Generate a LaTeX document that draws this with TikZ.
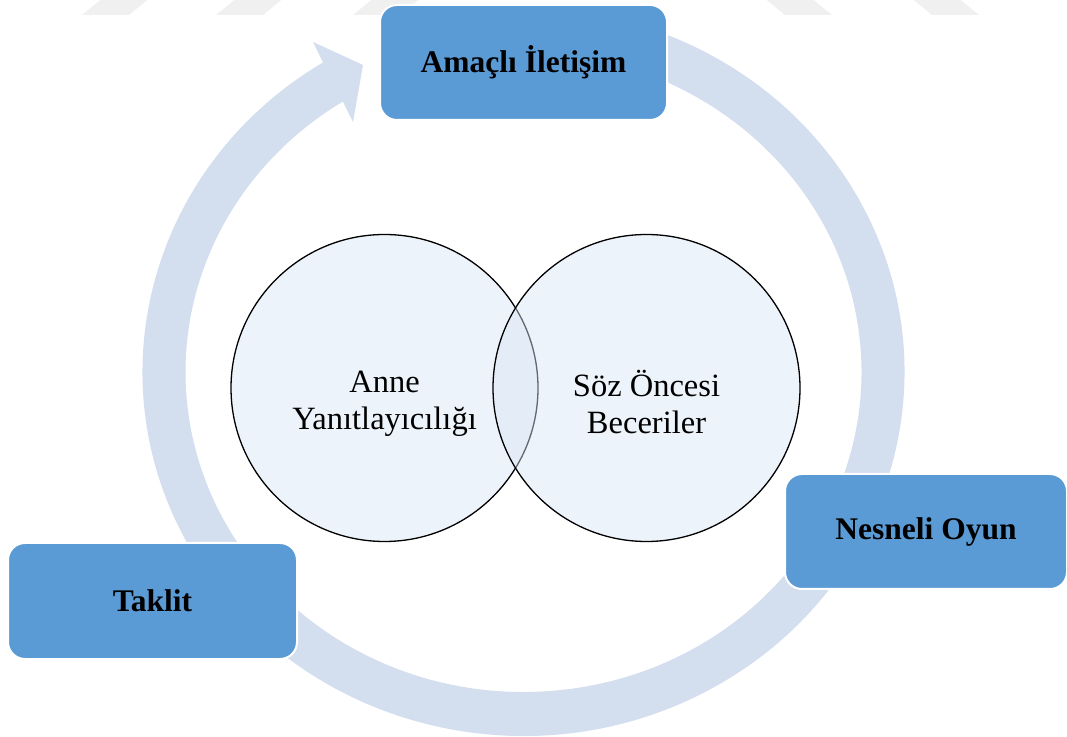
\documentclass[tikz,border=0pt]{standalone}
\usepackage{fontspec}
\setmainfont{Liberation Serif}
\usetikzlibrary{calc}
\definecolor{ringc}{HTML}{D3DEEF}
\definecolor{boxc}{HTML}{5B9BD5}
\definecolor{circc}{HTML}{D9E5F4}
\definecolor{wmark}{HTML}{F0F0F0}
\begin{document}
\begin{tikzpicture}[x=1pt,y=1pt,
  stage/.style={draw=white, line width=2pt, fill=boxc, rounded corners=17pt, inner sep=0pt,
    font=\fontsize{31.5}{37}\selectfont\bfseries},
  venn/.style={circle, draw=black, line width=1.3pt, fill=circc, fill opacity=0.45,
    text opacity=1, minimum size=307pt, inner sep=0pt},
  lbl/.style={align=center, inner sep=0pt, font=\fontsize{32.5}{37}\selectfont}]
\path[use as bounding box, clip] (0,0) rectangle (1067,736);
\fill[white] (0,0) rectangle (1067,736);
% faint marks at the top
\foreach \x in {82,216,353}{\fill[wmark] (\x,721) -- ++(47,0) -- ++(22,18) -- ++(-47,0) -- cycle;}
\foreach \x in {785,932}{\fill[wmark] (\x,721) -- ++(47,0) -- ++(-22,18) -- ++(-47,0) -- cycle;}
% circular arrow
\coordinate (ctr) at (523.5,364);
\fill[ringc] ($(ctr)+(121.75:381pt and 364pt)$)
  arc[start angle=121.75, end angle=455, x radius=381pt, y radius=364pt]
  -- ($(ctr)+(455:338pt and 320pt)$)
  arc[start angle=455, end angle=122.3, x radius=338pt, y radius=320pt]
  -- (353,614) -- (363,671) -- (313,694) -- cycle;
% venn circles
\node[venn] (L) at (384.5,348) {};
\node[venn] (R) at (646.5,348) {};
\node[lbl] (Lt) at (384.5,332) {Anne\\Yanıtlayıcılığı};
\node[lbl] (Rt) at (646.5,334) {Söz Öncesi\\Beceriler};
% stage boxes
\node[stage, minimum width=287pt, minimum height=115pt] (A) at (523.5,673.5) {Amaçlı İletişim};
\node[stage, minimum width=282pt, minimum height=115pt] (N) at (926,204.5) {Nesneli Oyun};
\node[stage, minimum width=289pt, minimum height=116pt] (T) at (152.5,135) {Taklit};
\end{tikzpicture}
\end{document}
